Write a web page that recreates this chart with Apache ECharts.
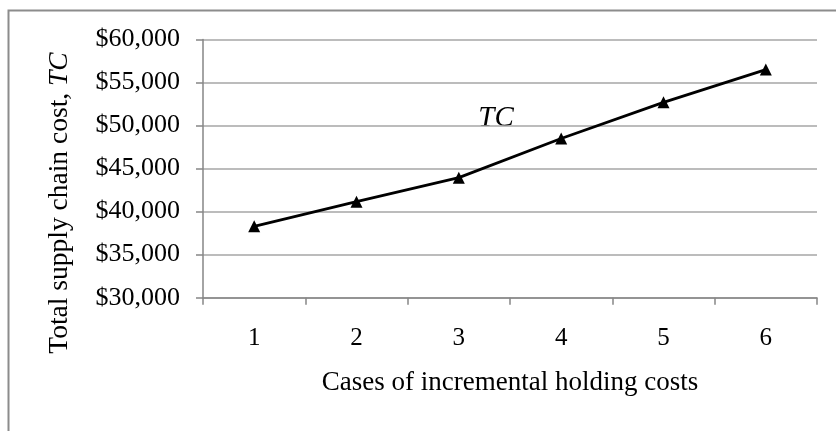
<!DOCTYPE html>
<html>
<head>
<meta charset="utf-8">
<script src="https://cdn.jsdelivr.net/npm/echarts@6/dist/echarts.min.js"></script>
<style>
  html, body { margin: 0; padding: 0; background: #fff; }
  #main { width: 836px; height: 431px; }
</style>
</head>
<body>
<div id="main"></div>
<script>
var cases = ['1', '2', '3', '4', '5', '6'];
var totalCost = [38300, 41150, 43950, 48500, 52700, 56500];
var yTicks = { min: 30000, max: 60000, step: 5000 };

var serif = '"Liberation Serif", "Times New Roman", serif';

function money(v) {
    return '$' + String(v).replace(/\B(?=(\d{3})+(?!\d))/g, ',');
}

var myChart = echarts.init(document.getElementById('main'));

var option = {
    backgroundColor: '#fff',
    animation: false,
    grid: { left: 203, right: 19, top: 39.5, bottom: 133.3 },
    xAxis: {
        type: 'category',
        data: cases,
        boundaryGap: true,
        name: 'Cases of incremental holding costs',
        nameLocation: 'middle',
        nameGap: 72,
        nameTextStyle: { fontFamily: serif, fontSize: 27, color: '#000' },
        axisLine: { lineStyle: { color: '#868686', width: 1.5 } },
        axisTick: { show: true, length: 7, lineStyle: { color: '#868686', width: 1.5 } },
        axisLabel: { margin: 28, fontFamily: serif, fontSize: 25, color: '#000' },
        splitLine: { show: false }
    },
    yAxis: {
        type: 'value',
        min: yTicks.min,
        max: yTicks.max,
        interval: yTicks.step,
        axisLine: { show: true, lineStyle: { color: '#868686', width: 1.5 } },
        axisTick: { show: true, length: 7, lineStyle: { color: '#868686', width: 1.5 } },
        axisLabel: {
            margin: 23,
            fontFamily: serif,
            fontSize: 26,
            color: '#000',
            formatter: money
        },
        splitLine: { lineStyle: { color: '#a6a6a6', width: 1.5 } }
    },
    graphic: [
        {
            type: 'rect',
            shape: { x: 8.5, y: 10.5, width: 900, height: 500 },
            style: { fill: null, stroke: '#8c8c8c', lineWidth: 2 },
            silent: true
        },
        {
            type: 'text',
            x: 60,
            y: 203,
            rotation: Math.PI / 2,
            style: {
                text: '{a|Total supply chain cost, }{b|TC}',
                align: 'center',
                verticalAlign: 'middle',
                rich: {
                    a: { fontFamily: serif, fontSize: 27.5, fill: '#000' },
                    b: { fontFamily: serif, fontSize: 27.5, fontStyle: 'italic', fill: '#000' }
                }
            }
        },
        {
            type: 'text',
            x: 496,
            y: 118,
            style: {
                text: 'TC',
                align: 'center',
                verticalAlign: 'middle',
                fontFamily: serif,
                fontSize: 29,
                fontStyle: 'italic',
                fill: '#000'
            }
        }
    ],
    series: [
        {
            name: 'TC',
            type: 'line',
            data: totalCost,
            symbol: 'triangle',
            symbolSize: 12,
            showAllSymbol: true,
            itemStyle: { color: '#000' },
            lineStyle: { color: '#000', width: 2.8 }
        }
    ]
};

myChart.setOption(option);
</script>
</body>
</html>
